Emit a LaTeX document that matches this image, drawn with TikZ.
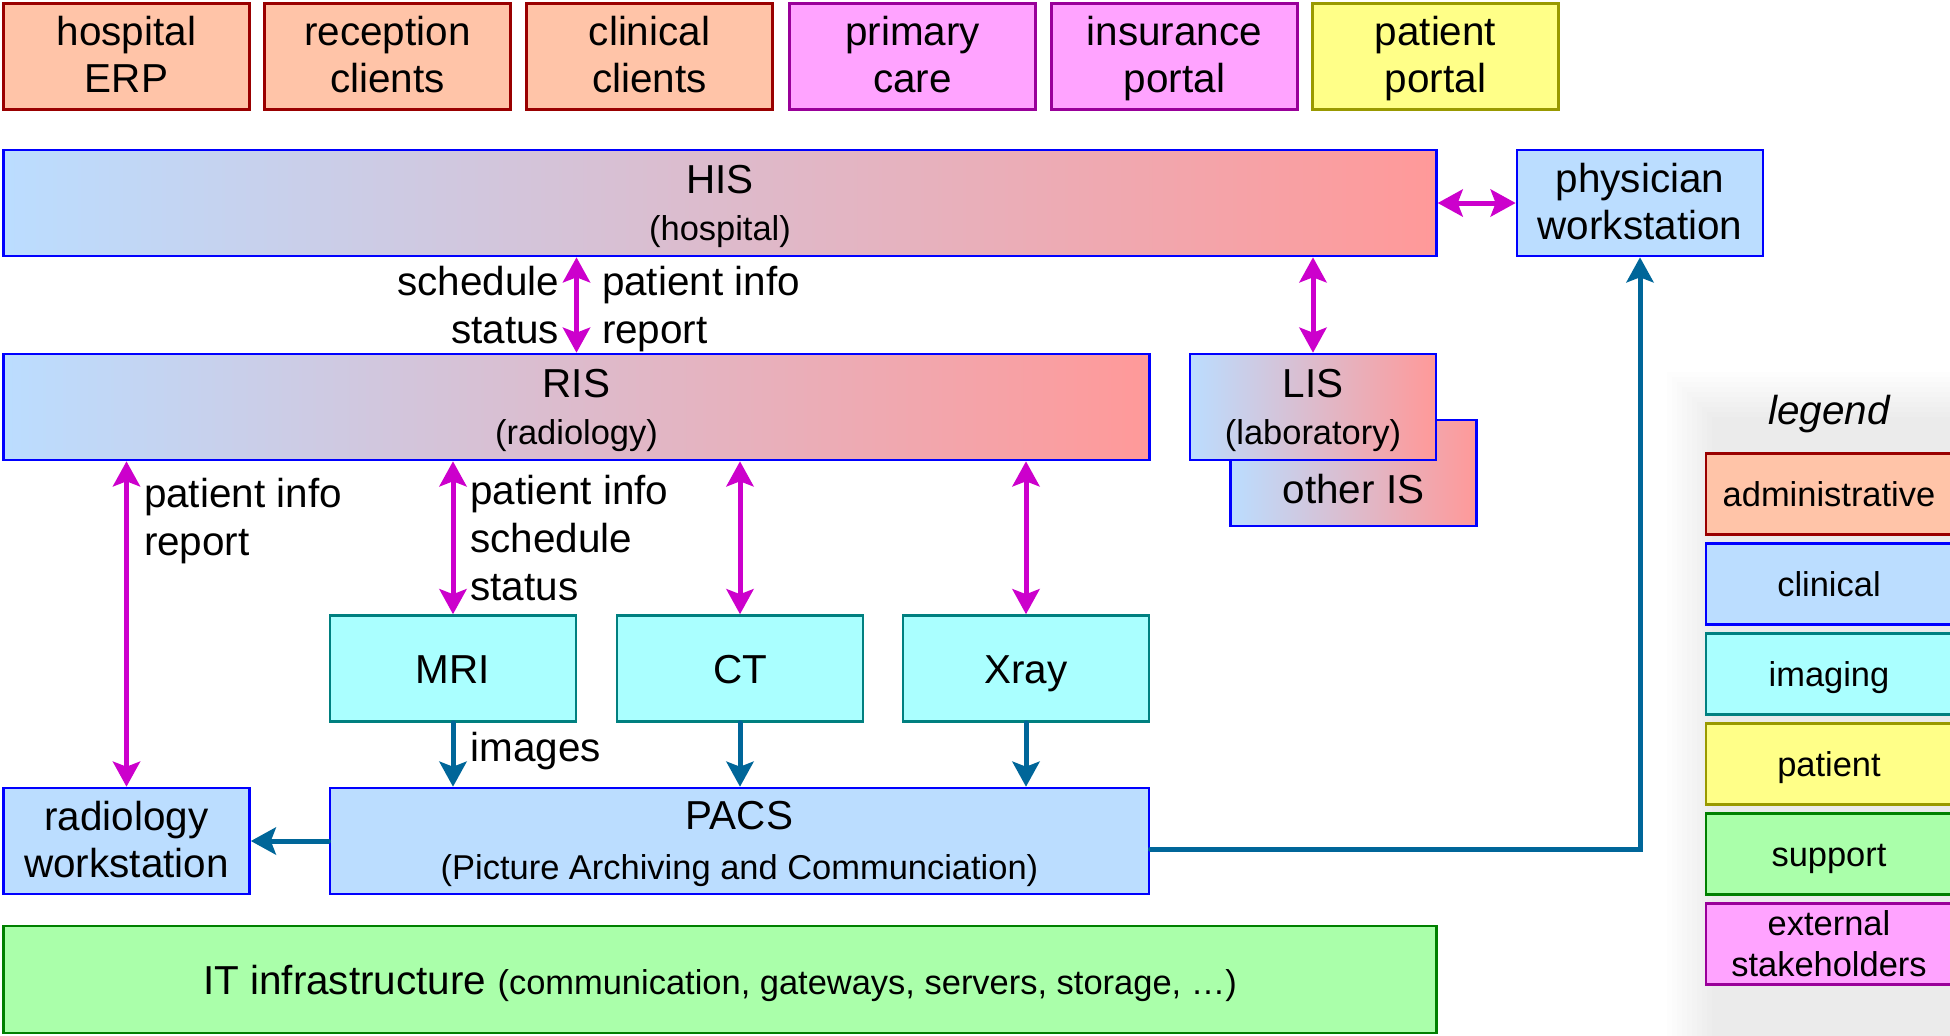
\documentclass[tikz,border=0pt]{standalone}
\usepackage{fontspec}
\setmainfont{Liberation Sans}
\usetikzlibrary{arrows.meta}

\definecolor{adminfill}{RGB}{255,196,168}
\definecolor{adminline}{RGB}{153,0,0}
\definecolor{clinfill}{RGB}{187,221,255}
\definecolor{clinline}{RGB}{0,0,255}
\definecolor{imagfill}{RGB}{170,255,255}
\definecolor{imagline}{RGB}{0,128,128}
\definecolor{patfill}{RGB}{255,255,136}
\definecolor{patline}{RGB}{153,153,0}
\definecolor{supfill}{RGB}{170,255,170}
\definecolor{supline}{RGB}{0,128,0}
\definecolor{extfill}{RGB}{255,163,255}
\definecolor{extline}{RGB}{153,0,153}
\definecolor{gradred}{RGB}{255,153,153}
\definecolor{magline}{RGB}{204,0,204}
\definecolor{blueline}{RGB}{0,102,153}

\newcommand{\bigtxt}{\fontsize{11.5}{13.4}\selectfont}
\newcommand{\lbltxt}{\fontsize{11.5}{13.7}\selectfont}
\newcommand{\smalltxt}{\fontsize{9.8}{11.7}\selectfont}

\tikzset{
  sysbox/.style={draw, line width=0.025cm, align=center, inner sep=0pt, font=\bigtxt, minimum height=1.06cm},
  wbox/.style={sysbox, minimum width=2.46cm},
  twoline/.style={text height=21.8pt, text depth=1.2pt},
  titled/.style={text height=21.6pt, text depth=0pt},
  oneline/.style={text height=8.3pt, text depth=0pt},
  admin/.style={fill=adminfill, draw=adminline},
  clinical/.style={fill=clinfill, draw=clinline},
  imaging/.style={fill=imagfill, draw=imagline},
  patient/.style={fill=patfill, draw=patline},
  support/.style={fill=supfill, draw=supline},
  extern/.style={fill=extfill, draw=extline},
  grad/.style={left color=clinfill, right color=gradred, draw=clinline},
  legendbox/.style={wbox, minimum height=0.81cm, font=\smalltxt, text height=7.2pt, text depth=0pt},
  magarrow/.style={draw=magline, line width=0.05cm, {Stealth[length=0.25cm, width=0.27cm, inset=0.05cm]}-{Stealth[length=0.25cm, width=0.27cm, inset=0.05cm]}},
  bluearrow/.style={draw=blueline, line width=0.05cm, line cap=round, -{Stealth[length=0.25cm, width=0.27cm, inset=0.05cm]}},
  lbl/.style={font=\lbltxt, align=left, inner sep=0.15cm}
}

\begin{document}
\begin{tikzpicture}[x=0.01cm, y=-0.01cm]
\useasboundingbox (0,0) rectangle (1950,1035);

% legend shadow
\foreach \i in {0,...,9}
  \fill[black, opacity=0.006] (1667+\i*5, 372+\i*5) rectangle (1960,1040);

% top row
\node[wbox, twoline, admin] (erp) at (126.5,56.5) {hospital\\ERP};
\node[wbox, twoline, admin] (recep) at (387.5,56.5) {reception\\clients};
\node[wbox, twoline, admin] (clincl) at (649.5,56.5) {clinical\\clients};
\node[wbox, twoline, extern] (primary) at (912.5,56.5) {primary\\care};
\node[wbox, twoline, extern] (insur) at (1174.5,56.5) {insurance\\portal};
\node[wbox, twoline, patient] (portal) at (1435.5,56.5) {patient\\portal};

% information systems
\node[sysbox, titled, grad, minimum width=14.32cm] (his) at (720,203) {HIS\\{\smalltxt (hospital)}};
\node[wbox, twoline, clinical] (phys) at (1640,203) {physician\\workstation};
\node[sysbox, titled, grad, minimum width=11.45cm] (ris) at (576.5,407) {RIS\\{\smalltxt (radiology)}};
\node[wbox, grad, label={[font=\bigtxt, yshift=-0.16cm]center:other IS}] (other) at (1353.5,473) {};
\node[wbox, titled, grad] (lis) at (1313,407) {LIS\\{\smalltxt (laboratory)}};

% modalities
\node[wbox, oneline, imaging] (mri) at (453,668.5) {MRI};
\node[wbox, oneline, imaging] (ct) at (740,668.5) {CT};
\node[wbox, oneline, imaging] (xray) at (1026,668.5) {Xray};

\node[sysbox, clinical, minimum width=8.19cm, text height=22.45pt, text depth=0.65pt] (pacs) at (739.5,841) {PACS\\[0.03cm]{\smalltxt (Picture Archiving and Communciation)}};
\node[wbox, twoline, clinical] (rw) at (126.5,841) {radiology\\workstation};

\node[sysbox, support, minimum width=14.32cm, minimum height=1.07cm, text depth=0pt] (infra) at (720,979.5) {IT infrastructure {\smalltxt (communication, gateways, servers, storage, \dots)}};

% legend
\node[font=\bigtxt\itshape] (legend) at (1829,414) {legend};
\node[legendbox, admin] (l1) at (1829,494) {administrative};
\node[legendbox, clinical] (l2) at (1829,584) {clinical};
\node[legendbox, imaging] (l3) at (1829,674) {imaging};
\node[legendbox, patient] (l4) at (1829,764) {patient};
\node[legendbox, support] (l5) at (1829,854) {support};
\node[legendbox, extern, text height=, text depth=] (l6) at (1829,944) {external\\stakeholders};

% messages
\draw[magarrow] (ris.north) -- node[lbl, text height=22.1pt, text depth=0pt, left, align=right] {schedule\\status} node[lbl, text height=22.1pt, text depth=0pt, right, xshift=0.08cm] {patient info\\report} (ris.north |- his.south);
\draw[magarrow] (lis.north) -- (lis.north |- his.south);
\draw[magarrow] (his.east) -- (phys.west);
\draw[magarrow] (rw.north |- ris.south) -- node[lbl, text height=22.1pt, text depth=0pt, pos=0.17, right] {patient info\\report} (rw.north);
\draw[magarrow] (mri.north |- ris.south) -- node[lbl, text height=35.8pt, text depth=0pt, right] {patient info\\schedule\\status} (mri.north);
\draw[magarrow] (ct.north |- ris.south) -- (ct.north);
\draw[magarrow] (xray.north |- ris.south) -- (xray.north);

% images
\draw[bluearrow] (mri.south) -- node[lbl, text height=8.4pt, text depth=0pt, pos=0.37, right] {images} (mri.south |- pacs.north);
\draw[bluearrow] (ct.south) -- (ct.south |- pacs.north);
\draw[bluearrow] (xray.south) -- (xray.south |- pacs.north);
\draw[bluearrow] (pacs.west) -- (rw.east);
\draw[bluearrow] ([yshift=-0.08cm]pacs.east) -| (phys.south);
\end{tikzpicture}
\end{document}
